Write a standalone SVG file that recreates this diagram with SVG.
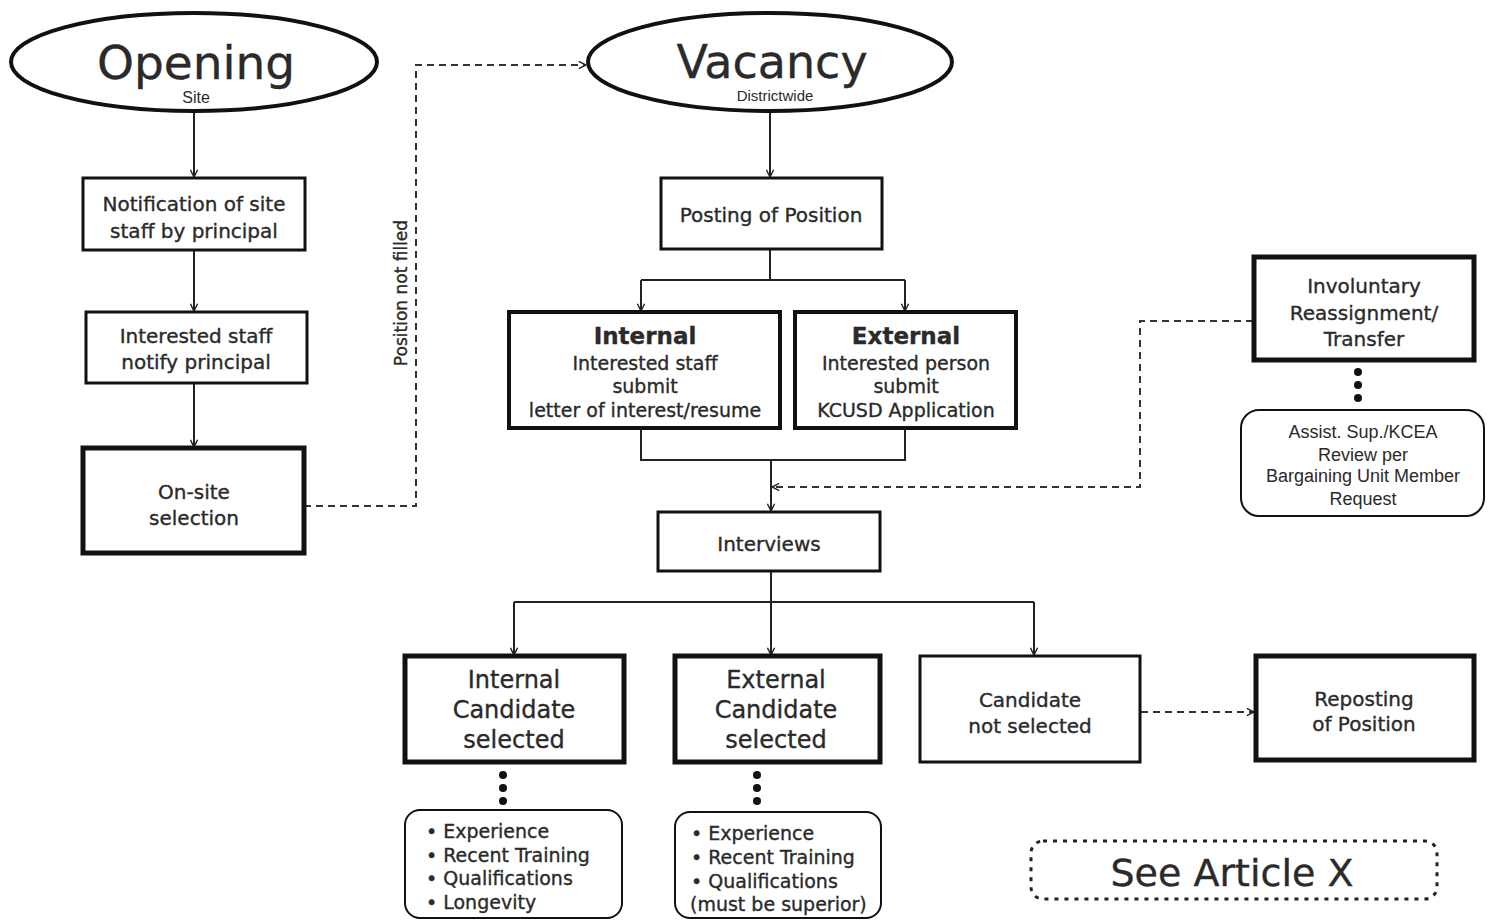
<svg xmlns="http://www.w3.org/2000/svg" width="1497" height="921" viewBox="0 0 1497 921">
<style>
.t{font-family:"DejaVu Sans",sans-serif;fill:#2a2a2a;stroke:#2a2a2a;stroke-width:0.35;text-anchor:middle}
.a{font-family:"Liberation Sans",Arial,sans-serif;fill:#2a2a2a;text-anchor:middle}
.l{font-family:"DejaVu Sans",sans-serif;fill:#2a2a2a;stroke:#2a2a2a;stroke-width:0.35}
.box{fill:#fff;stroke:#111}
.c{fill:none;stroke:#222;stroke-width:2}
.d{fill:none;stroke:#333;stroke-width:2;stroke-dasharray:7 5}
.dot{fill:#111}
</style>
<defs>
<marker id="ar" viewBox="0 0 10 10" refX="9" refY="5" markerWidth="9" markerHeight="9" markerUnits="userSpaceOnUse" orient="auto">
<path d="M1,1 L9,5 L1,9" fill="none" stroke="#222" stroke-width="1.6"/>
</marker>
</defs>
<rect width="1497" height="921" fill="#fff"/>

<g id="connectors">
<line class="c" x1="194" y1="112" x2="194" y2="177" marker-end="url(#ar)"/>
<line class="c" x1="194" y1="250" x2="194" y2="311" marker-end="url(#ar)"/>
<line class="c" x1="194" y1="383" x2="194" y2="447" marker-end="url(#ar)"/>
<polyline class="d" points="304,506 416,506 416,65 586,65" marker-end="url(#ar)"/>
<line class="c" x1="770" y1="112" x2="770" y2="177" marker-end="url(#ar)"/>
<polyline class="c" points="770,249 770,280"/>
<polyline class="c" points="641,280 905,280"/>
<line class="c" x1="641" y1="280" x2="641" y2="311" marker-end="url(#ar)"/>
<line class="c" x1="905" y1="280" x2="905" y2="311" marker-end="url(#ar)"/>
<polyline class="c" points="641,428 641,460 905,460 905,428"/>
<line class="c" x1="771" y1="460" x2="771" y2="511" marker-end="url(#ar)"/>
<polyline class="d" points="1253,321 1140,321 1140,487 772,487" marker-end="url(#ar)"/>
<polyline class="c" points="771,571 771,602"/>
<polyline class="c" points="514,602 1034,602"/>
<line class="c" x1="514" y1="602" x2="514" y2="655" marker-end="url(#ar)"/>
<line class="c" x1="771" y1="602" x2="771" y2="655" marker-end="url(#ar)"/>
<line class="c" x1="1034" y1="602" x2="1034" y2="655" marker-end="url(#ar)"/>
<line class="d" x1="1141" y1="712" x2="1254" y2="712" marker-end="url(#ar)"/>
<text class="l" font-size="17" transform="translate(407,293) rotate(-90)" text-anchor="middle">Position not filled</text>
<circle class="dot" cx="503" cy="775" r="4"/><circle class="dot" cx="503" cy="788" r="4"/><circle class="dot" cx="503" cy="801" r="4"/>
<circle class="dot" cx="757" cy="775" r="4"/><circle class="dot" cx="757" cy="788" r="4"/><circle class="dot" cx="757" cy="801" r="4"/>
<circle class="dot" cx="1358" cy="372" r="4"/><circle class="dot" cx="1358" cy="385" r="4"/><circle class="dot" cx="1358" cy="398" r="4"/>
</g>

<g id="opening">
<ellipse class="box" cx="194" cy="62" rx="183" ry="49" stroke-width="4"/>
<text class="t" x="196" y="79" font-size="47">Opening</text>
<text class="a" x="196" y="103" font-size="16">Site</text>
</g>

<g id="vacancy">
<ellipse class="box" cx="770" cy="62" rx="182" ry="49" stroke-width="4"/>
<text class="t" x="772" y="78" font-size="46">Vacancy</text>
<text class="a" x="775" y="101" font-size="15">Districtwide</text>
</g>

<g id="notification">
<rect class="box" x="83" y="178" width="222" height="72" stroke-width="3"/>
<text class="t" x="194" y="211" font-size="20">Notification of site</text>
<text class="t" x="194" y="238" font-size="20">staff by principal</text>
</g>

<g id="interested-staff">
<rect class="box" x="86" y="312" width="221" height="71" stroke-width="3"/>
<text class="t" x="196" y="343" font-size="20">Interested staff</text>
<text class="t" x="196" y="369" font-size="20">notify principal</text>
</g>

<g id="onsite">
<rect class="box" x="83" y="448" width="221" height="105" stroke-width="5"/>
<text class="t" x="194" y="499" font-size="20">On-site</text>
<text class="t" x="194" y="525" font-size="20">selection</text>
</g>

<g id="posting">
<rect class="box" x="661" y="178" width="221" height="71" stroke-width="3"/>
<text class="t" x="771" y="222" font-size="20">Posting of Position</text>
</g>

<g id="internal">
<rect class="box" x="509" y="312" width="271" height="116" stroke-width="4"/>
<text class="t" x="645" y="344" font-size="23" font-weight="bold">Internal</text>
<text class="t" x="645" y="370" font-size="19">Interested staff</text>
<text class="t" x="645" y="393" font-size="19">submit</text>
<text class="t" x="645" y="417" font-size="19">letter of interest/resume</text>
</g>

<g id="external">
<rect class="box" x="795" y="312" width="221" height="116" stroke-width="4"/>
<text class="t" x="906" y="344" font-size="23" font-weight="bold">External</text>
<text class="t" x="906" y="370" font-size="19">Interested person</text>
<text class="t" x="906" y="393" font-size="19">submit</text>
<text class="t" x="906" y="417" font-size="19">KCUSD Application</text>
</g>

<g id="involuntary">
<rect class="box" x="1254" y="257" width="220" height="103" stroke-width="5"/>
<text class="t" x="1364" y="293" font-size="20">Involuntary</text>
<text class="t" x="1364" y="320" font-size="20">Reassignment/</text>
<text class="t" x="1364" y="346" font-size="20">Transfer</text>
</g>

<g id="assist">
<rect class="box" x="1241" y="410" width="243" height="106" rx="18" stroke-width="2"/>
<text class="a" x="1363" y="438" font-size="18">Assist. Sup./KCEA</text>
<text class="a" x="1363" y="461" font-size="18">Review per</text>
<text class="a" x="1363" y="482" font-size="18">Bargaining Unit Member</text>
<text class="a" x="1363" y="505" font-size="18">Request</text>
</g>

<g id="interviews">
<rect class="box" x="658" y="512" width="222" height="59" stroke-width="3"/>
<text class="t" x="769" y="551" font-size="20">Interviews</text>
</g>

<g id="internal-selected">
<rect class="box" x="405" y="656" width="219" height="106" stroke-width="5"/>
<text class="t" x="514" y="688" font-size="24">Internal</text>
<text class="t" x="514" y="718" font-size="24">Candidate</text>
<text class="t" x="514" y="748" font-size="24">selected</text>
</g>

<g id="external-selected">
<rect class="box" x="675" y="656" width="205" height="106" stroke-width="5"/>
<text class="t" x="776" y="688" font-size="24">External</text>
<text class="t" x="776" y="718" font-size="24">Candidate</text>
<text class="t" x="776" y="748" font-size="24">selected</text>
</g>

<g id="not-selected">
<rect class="box" x="920" y="656" width="220" height="106" stroke-width="3"/>
<text class="t" x="1030" y="707" font-size="20">Candidate</text>
<text class="t" x="1030" y="733" font-size="20">not selected</text>
</g>

<g id="reposting">
<rect class="box" x="1256" y="656" width="218" height="104" stroke-width="5"/>
<text class="t" x="1364" y="706" font-size="20">Reposting</text>
<text class="t" x="1364" y="731" font-size="20">of Position</text>
</g>

<g id="internal-criteria">
<rect class="box" x="405" y="810" width="217" height="108" rx="15" stroke-width="2"/>
<text class="l" x="426" y="838" font-size="19">• Experience</text>
<text class="l" x="426" y="862" font-size="19">• Recent Training</text>
<text class="l" x="426" y="885" font-size="19">• Qualifications</text>
<text class="l" x="426" y="909" font-size="19">• Longevity</text>
</g>

<g id="external-criteria">
<rect class="box" x="675" y="812" width="206" height="106" rx="15" stroke-width="2"/>
<text class="l" x="691" y="840" font-size="19">• Experience</text>
<text class="l" x="691" y="864" font-size="19">• Recent Training</text>
<text class="l" x="691" y="888" font-size="19">• Qualifications</text>
<text class="l" x="690" y="911" font-size="19">(must be superior)</text>
</g>

<g id="see-article">
<rect x="1031" y="841" width="406" height="58" rx="12" fill="#fff" stroke="#222" stroke-width="3" stroke-dasharray="4 6"/>
<text class="t" x="1232" y="886" font-size="38">See Article X</text>
</g>
</svg>
